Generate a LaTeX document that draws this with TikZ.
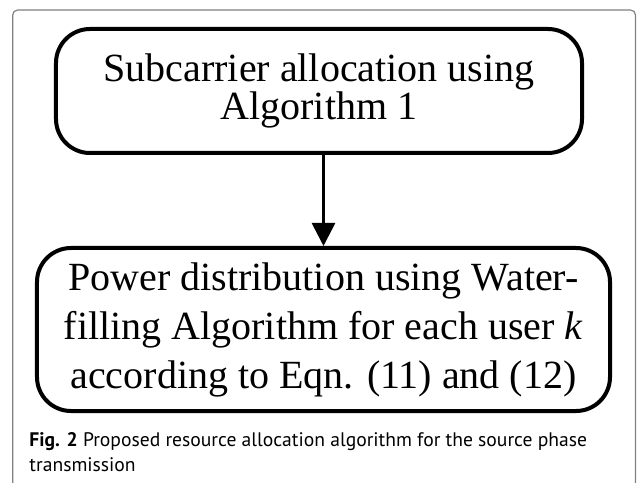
\documentclass[tikz,border=0pt]{standalone}
\usepackage{fontspec}
\setmainfont{Liberation Serif}
\newfontfamily\capfont{PT Sans}
\usetikzlibrary{arrows.meta}
\begin{document}
\begin{tikzpicture}[x=1bp,y=-1bp,
  flowbox/.style={draw, line width=4bp, rounded corners=34bp, inner sep=0pt,
    align=center, font=\fontsize{40bp}{38bp}\selectfont},
  capline/.style={anchor=base west, inner sep=0pt,
    font=\capfont\fontsize{19.6bp}{26bp}\selectfont},
  frameline/.style={black!50, line width=1.2bp, rounded corners=5bp},
  flowarrow/.style={line width=2.7bp, -{Triangle[length=23bp,width=23bp]}}
]
\useasboundingbox (0,0) rectangle (637,483);
% panel frame, open at the bottom
\draw[frameline] (12.7,483) -- (12.7,10) -- (635.5,10) -- (635.5,483);
% flow boxes
\node[flowbox, minimum width=526bp, minimum height=124bp] (alloc) at (319,91)
  {Subcarrier allocation using\\Algorithm 1};
\node[flowbox, font=\fontsize{40bp}{49bp}\selectfont,
      minimum width=573bp, minimum height=163bp] (power) at (323.5,329.5)
  {Power distribution using Water-\\filling Algorithm for each user \textit{k}\\according to Eqn. (11) and (12)};
\draw[flowarrow] (power.north |- alloc.south) -- (power.north);
% caption
\node[capline] (cap1) at (29.3,446) {\textbf{Fig. 2} Proposed resource allocation algorithm for the source phase};
\node[capline] (cap2) at (29.3,471.7) {transmission};
\end{tikzpicture}
\end{document}
